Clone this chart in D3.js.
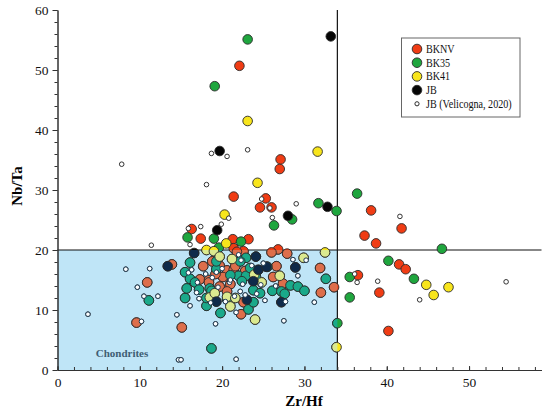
<!DOCTYPE html>
<html>
<head>
<meta charset="utf-8">
<script src="https://cdn.jsdelivr.net/npm/d3@7"></script>
<style>
  body { margin: 0; background: #fff; }
  text { font-family: "Liberation Serif", "Times New Roman", serif; }
</style>
</head>
<body>
<svg id="canvas" width="550" height="411"></svg>
<script>
// Zr/Hf vs Nb/Ta, one array per sample group: [Zr/Hf, Nb/Ta]
const bknv = [
  [22.1, 50.7], [27.1, 35.1], [27.0, 33.5], [21.4, 28.9], [25.3, 28.6], [24.6, 27.1], [26.0, 27.1],
  [16.3, 23.5], [17.4, 21.9], [21.3, 21.8], [23.2, 21.8], [21.4, 20.3], [26.8, 20.1],
  [38.1, 26.6], [41.8, 23.6], [37.3, 22.4], [38.7, 21.1], [41.5, 17.6], [42.3, 16.8], [36.5, 15.8],
  [39.1, 12.9], [40.2, 6.5],
  [13.9, 17.6], [10.9, 14.6], [9.6, 7.9], [15.1, 7.1], [17.7, 17.3], [18.8, 18.1], [19.7, 17.4],
  [20.6, 16.6], [21.8, 17.8], [17.3, 15.1], [18.4, 15.0], [20.1, 15.5], [19.7, 13.9], [21.0, 14.3],
  [20.6, 13.1], [21.4, 16.7], [18.4, 14.6], [21.6, 17.3], [22.6, 19.8], [21.8, 19.7], [22.3, 9.3],
  [22.6, 11.3], [26.0, 19.6], [27.9, 19.4], [26.6, 17.3], [26.2, 15.5], [27.4, 14.4], [31.9, 17.0],
  [32.0, 12.9], [33.6, 13.8], [22.8, 16.5], [19.2, 16.0]
];
const bk35 = [
  [23.1, 55.1], [19.1, 47.3], [15.8, 22.1], [19.0, 21.9], [22.3, 21.4], [19.6, 20.4], [26.3, 24.1],
  [28.5, 25.1], [31.7, 27.8], [33.9, 26.5], [36.4, 29.4], [46.7, 20.2], [40.2, 18.2], [43.3, 15.2],
  [35.5, 15.5], [35.5, 12.1], [34.0, 7.8],
  [11.1, 11.6], [15.5, 12.0], [18.7, 3.6], [19.8, 9.5], [23.2, 10.1], [23.8, 11.3], [18.1, 10.7],
  [16.1, 17.9], [15.5, 16.3], [16.1, 15.2], [16.7, 14.6], [17.2, 13.4], [18.5, 13.6], [15.7, 13.6],
  [18.7, 13.2], [22.9, 18.7], [22.0, 15.7], [22.9, 15.7], [19.3, 16.8], [21.0, 15.8], [23.8, 13.3],
  [26.1, 13.2], [25.5, 17.2], [22.2, 18.1], [23.4, 17.0], [24.6, 12.8], [27.2, 13.1], [28.3, 14.1],
  [29.2, 13.9], [30.0, 13.2], [27.6, 12.7], [32.6, 15.2], [19.3, 18.1], [18.1, 12.0], [24.1, 15.6],
  [20.6, 11.8], [22.4, 14.8]
];
const bk41 = [
  [23.1, 41.5], [24.3, 31.2], [31.6, 36.4], [20.3, 25.9], [20.5, 21.1], [18.1, 20.0], [44.8, 14.2],
  [45.7, 12.5], [47.5, 13.8], [33.9, 3.8], [32.5, 19.6], [19.0, 19.8], [19.7, 18.9], [18.5, 12.1],
  [20.6, 12.2], [21.0, 10.6], [24.0, 8.4], [23.9, 15.9], [24.8, 14.6], [27.0, 15.7], [29.9, 18.7],
  [19.1, 12.8], [21.2, 18.5], [21.6, 12.0]
];
const jb = [
  [33.2, 55.6], [19.7, 36.5], [19.4, 23.3], [28.0, 25.7], [32.8, 27.2],
  [13.4, 17.3], [16.6, 19.5], [24.1, 18.9], [28.9, 17.1], [27.2, 11.3], [24.4, 16.7], [23.8, 14.8],
  [25.4, 17.2], [23.0, 11.7], [19.3, 11.4]
];
const velicogna = [
  [18.7, 36.1], [20.6, 35.6], [23.1, 36.7], [7.8, 34.3], [18.1, 30.9], [24.8, 28.5], [20.8, 25.3],
  [29.0, 27.7], [26.1, 25.4], [41.6, 25.6], [17.4, 23.9], [15.9, 23.6], [16.1, 20.9], [11.4, 20.8],
  [19.9, 24.3], [25.8, 27.0], [54.5, 14.7], [44.0, 11.7], [36.1, 16.0], [36.4, 14.6], [38.9, 14.8],
  [8.3, 16.8], [11.2, 16.9], [9.7, 13.8], [10.5, 12.3], [12.2, 12.3], [3.7, 9.3], [10.2, 8.1],
  [14.5, 9.2], [14.7, 1.7], [15.0, 1.7], [21.7, 1.8], [19.2, 7.7], [16.1, 10.7], [21.7, 9.6],
  [16.3, 16.7], [16.9, 12.9], [31.2, 11.3], [27.5, 8.2], [28.6, 18.4], [30.2, 18.3], [29.2, 15.7],
  [27.7, 11.4], [18.0, 16.0], [18.8, 15.4], [20.0, 16.9], [17.0, 14.6], [19.5, 13.8], [20.9, 14.6],
  [22.5, 14.3], [21.5, 12.3], [18.6, 11.2], [22.8, 12.5], [24.2, 12.7], [25.2, 11.6], [23.6, 17.4],
  [17.2, 11.9], [25.0, 17.8], [22.0, 19.2], [19.3, 16.3], [15.9, 16.2], [20.4, 11.4], [24.7, 14.2],
  [22.2, 13.1], [21.0, 15.0], [22.3, 18.3], [26.5, 14.0]
];

const seriesNames = ["BKNV", "BK35", "BK41", "JB", "JB (Velicogna, 2020)"];
const xTicks = [0, 10, 20, 30, 40, 50];
const yTicks = [0, 10, 20, 30, 40, 50, 60];
const chondrite = { zrhf: 34, nbta: 20 };

// marker styles: normal colour and the tint they get inside the blue box
const styles = [
  { fill: "#f03c14", tint: "#dd6e4b", r: 4.8 },
  { fill: "#1fa63e", tint: "#1aa98a", r: 4.8 },
  { fill: "#f8e51c", tint: "#dbe98f", r: 4.8 },
  { fill: "#050505", tint: "#0f2a4a", r: 4.8 },
  { fill: "#ffffff", tint: "#ffffff", r: 2.3 }
];

const x = d3.scaleLinear().domain([0, 58.8]).range([57.5, 541.5]);
const y = d3.scaleLinear().domain([0, 60]).range([370, 10]);

function drawPoints(layer, groups, key) {
  groups.forEach((data, i) => {
    const st = styles[i];
    const small = st.r < 3;
    layer
      .append("g")
      .selectAll("circle")
      .data(data)
      .join("circle")
      .attr("cx", d => x(d[0]))
      .attr("cy", d => y(d[1]))
      .attr("r", st.r)
      .attr("fill", st[key])
      .attr("stroke", small ? (key === "tint" ? "#1d3a52" : "#333") : "#2a2a2a")
      .attr("stroke-width", small ? 1 : 0.9);
  });
}

function drawAxes(svg) {
  const gx = svg.append("g").attr("transform", `translate(0,${y(0)})`);
  gx.call(
    d3.axisBottom(x).tickValues(d3.range(0, 59, 2)).tickSizeInner(-3).tickSizeOuter(0).tickFormat("")
  );
  gx.append("g").call(
    d3.axisBottom(x).tickValues(xTicks).tickSizeInner(-4).tickSizeOuter(0).tickPadding(7)
  );

  const gy = svg.append("g").attr("transform", `translate(${x(0)},0)`);
  gy.call(d3.axisLeft(y).tickValues(d3.range(0, 61, 2)).tickSizeInner(3).tickSizeOuter(0).tickFormat(""));
  gy.append("g").call(d3.axisLeft(y).tickValues(yTicks).tickSizeInner(5).tickSizeOuter(0).tickPadding(4));

  svg.selectAll(".domain, .tick line").attr("stroke", "#333");
  svg.selectAll(".tick text")
    .attr("fill", "#111")
    .style("font-family", "Liberation Serif")
    .style("font-size", "13.5px");

  svg.append("text")
    .attr("x", 304)
    .attr("y", 406)
    .attr("text-anchor", "middle")
    .attr("font-weight", "bold")
    .attr("font-size", 15)
    .text("Zr/Hf");

  svg.append("text")
    .attr("transform", "translate(22,186) rotate(-90)")
    .attr("text-anchor", "middle")
    .attr("font-weight", "bold")
    .attr("font-size", 15)
    .text("Nb/Ta");
}

function drawLegend(svg) {
  const lg = svg.append("g");
  lg.append("rect")
    .attr("x", 401.5)
    .attr("y", 38)
    .attr("width", 118.5)
    .attr("height", 79)
    .attr("fill", "#fff")
    .attr("stroke", "#666");
  const rows = lg.selectAll("g.item")
    .data(seriesNames)
    .join("g")
    .attr("class", "item")
    .attr("transform", (d, i) => `translate(417,${49 + i * 13.7})`);
  rows.append("circle")
    .attr("r", (d, i) => styles[i].r < 3 ? 2.1 : 4.8)
    .attr("fill", (d, i) => styles[i].fill)
    .attr("stroke", "#2a2a2a")
    .attr("stroke-width", (d, i) => styles[i].r < 3 ? 1 : 0.9);
  rows.append("text")
    .attr("x", 9)
    .attr("dy", "0.35em")
    .attr("font-size", 11.5)
    .attr("fill", "#111")
    .text(d => d)
    .each(function () {
      // the original legend type is a bit narrower than Times
      const w = this.getComputedTextLength();
      d3.select(this).attr("textLength", w * 0.88).attr("lengthAdjust", "spacingAndGlyphs");
    });
}

function main() {
  const svg = d3.select("#canvas");
  const groups = [bknv, bk35, bk41, jb, velicogna];

  svg.append("rect").attr("width", 550).attr("height", 411).attr("fill", "#fff");

  const box = {
    x: x(0),
    y: y(chondrite.nbta),
    w: x(chondrite.zrhf) - x(0),
    h: y(0) - y(chondrite.nbta)
  };

  svg.append("defs")
    .append("clipPath")
    .attr("id", "box-clip")
    .append("rect")
    .attr("x", box.x)
    .attr("y", box.y)
    .attr("width", box.w)
    .attr("height", box.h);

  svg.append("rect")
    .attr("x", box.x)
    .attr("y", box.y)
    .attr("width", box.w)
    .attr("height", box.h)
    .attr("fill", "#bfe5f7");

  // boundary lines
  svg.append("line")
    .attr("x1", x(0)).attr("x2", x.range()[1])
    .attr("y1", y(chondrite.nbta)).attr("y2", y(chondrite.nbta))
    .attr("stroke", "#111").attr("stroke-width", 1.2);
  svg.append("line")
    .attr("x1", x(chondrite.zrhf)).attr("x2", x(chondrite.zrhf))
    .attr("y1", y(0)).attr("y2", y(60))
    .attr("stroke", "#111").attr("stroke-width", 1.2);

  svg.append("text")
    .attr("x", 122)
    .attr("y", 357)
    .attr("text-anchor", "middle")
    .attr("font-weight", "bold")
    .attr("font-size", 11)
    .attr("fill", "#3e5d73")
    .text("Chondrites");

  drawPoints(svg.append("g"), groups, "fill");
  drawPoints(svg.append("g").attr("clip-path", "url(#box-clip)"), groups, "tint");

  drawAxes(svg);
  drawLegend(svg);
}

main();
</script>
</body>
</html>
